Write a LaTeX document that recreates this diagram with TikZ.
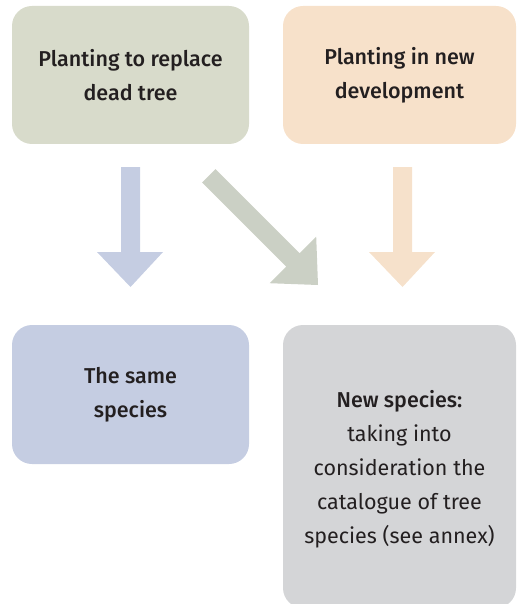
\documentclass[tikz,border=0pt]{standalone}
\usepackage{fontspec}
\setmainfont{Fira Sans}[BoldFont={Fira Sans Medium}]
\definecolor{boxgreen}{RGB}{216,219,203}
\definecolor{boxpeach}{RGB}{247,225,202}
\definecolor{boxblue}{RGB}{197,205,226}
\definecolor{boxgray}{RGB}{212,213,215}
\definecolor{arrgreen}{RGB}{203,208,197}
\definecolor{arrpeach}{RGB}{246,225,203}
\definecolor{txt}{RGB}{35,31,32}
\tikzset{
  box/.style={rectangle, rounded corners=20pt, inner sep=0pt, align=center,
    text=txt, font=\fontsize{21.5}{34}\selectfont},
  bigarrow/.style={draw=none}
}
\begin{document}
\begin{tikzpicture}[x=1pt,y=-1pt]
\useasboundingbox (0,0) rectangle (517,604);
\begin{scope}
\clip (0,0) rectangle (517,604);
\node[box, fill=boxgreen, minimum width=237pt, minimum height=138pt] (replace) at (130.5,75) {\textbf{Planting to replace}\\\textbf{dead tree}};
\node[box, fill=boxpeach, minimum width=233pt, minimum height=138pt] (newdev) at (399.5,75) {\textbf{Planting in new}\\\textbf{development}};
\node[box, fill=boxblue, minimum width=237pt, minimum height=139pt] (same) at (130.5,394.5) {\textbf{The same}\\\textbf{species}};
\node[box, fill=boxgray, minimum width=233pt, minimum height=283pt] (newsp) at (399.5,466.5) {};
\node[align=center, text=txt, font=\fontsize{21.5}{34}\selectfont, inner sep=0pt] (newsptext) at (399.5,469) {\textbf{New species:}\\taking into\\consideration the\\catalogue of tree\\species (see annex)};
\end{scope}
% left arrow
\fill[boxblue] (121,167) -- (140,167) -- (140,252) -- (163,252) -- (130.5,287) -- (97,252) -- (121,252) -- cycle;
% right arrow
\fill[arrpeach] (393,167) -- (412,167) -- (412,252) -- (435,252) -- (402.5,287) -- (369,252) -- (393,252) -- cycle;
% diagonal arrow
\fill[arrgreen] (215.5,169.1) -- (299.6,253.2) -- (316.2,236.6) -- (318,285) -- (269.6,283.2) -- (286.2,266.6) -- (202.1,182.5) -- cycle;
\end{tikzpicture}
\end{document}
